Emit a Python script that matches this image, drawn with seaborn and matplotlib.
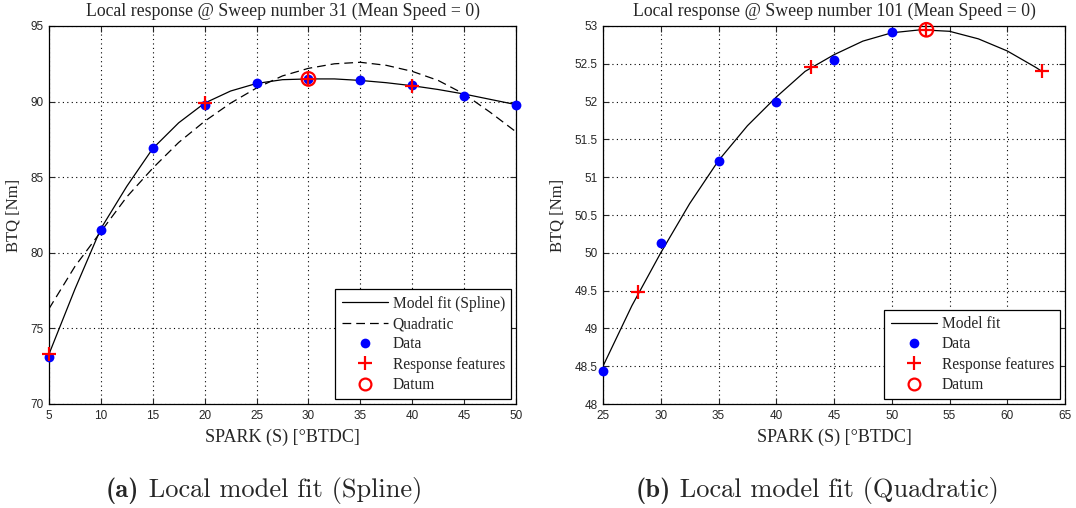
import matplotlib
matplotlib.use("Agg")
import matplotlib.pyplot as plt
import seaborn as sns
from matplotlib.lines import Line2D

# ---------------- data: left panel (Sweep 31, spline) ----------------
a_data_x = [5, 10, 15, 20, 25, 30, 35, 40, 45, 50]
a_data_y = [73.1, 81.5, 86.9, 89.8, 91.2, 91.5, 91.4, 91.1, 90.4, 89.8]
a_feat_x = [5, 20, 30, 40]
a_feat_y = [73.3, 89.9, 91.5, 91.0]
a_datum_x = [30]
a_datum_y = [91.5]
a_fit_x = [5, 7.5, 10, 12.5, 15, 17.5, 20, 22.5, 25, 27.5, 30, 32.5, 35, 37.5, 40, 42.5, 45, 47.5, 50]
a_fit_y = [73.3, 77.6, 81.6, 84.4, 86.9, 88.6, 89.9, 90.7, 91.2, 91.45, 91.5, 91.5, 91.4, 91.25, 91.05, 90.8, 90.5, 90.15, 89.8]
a_quad_x = [5, 7.5, 10, 12.5, 15, 17.5, 20, 22.5, 25, 27.5, 30, 32.5, 35, 37.5, 40, 42.5, 45, 47.5, 50]
a_quad_y = [76.3, 79.1, 81.4, 83.7, 85.6, 87.3, 88.7, 89.9, 90.9, 91.7, 92.2, 92.5, 92.6, 92.4, 92.0, 91.4, 90.5, 89.3, 88.0]

# ---------------- data: right panel (Sweep 101, quadratic) ----------------
b_data_x = [25, 30, 35, 40, 45, 50]
b_data_y = [48.43, 50.13, 51.22, 52.0, 52.55, 52.92]
b_feat_x = [28, 43, 53, 63]
b_feat_y = [49.48, 52.46, 52.95, 52.40]
b_datum_x = [53]
b_datum_y = [52.95]
b_fit_x = [25, 27.5, 30, 32.5, 35, 37.5, 40, 42.5, 45, 47.5, 50, 52.5, 55, 57.5, 60, 62.5, 63]
b_fit_y = [48.5, 49.3, 50.0, 50.65, 51.22, 51.68, 52.06, 52.4, 52.62, 52.8, 52.91, 52.95, 52.93, 52.83, 52.67, 52.45, 52.40]

a_yticks = [70, 75, 80, 85, 90, 95]
a_xticks = [5, 10, 15, 20, 25, 30, 35, 40, 45, 50]
b_yticks = [48, 48.5, 49, 49.5, 50, 50.5, 51, 51.5, 52, 52.5, 53]
b_ytick_labels = ["48", "48.5", "49", "49.5", "50", "50.5", "51", "51.5", "52", "52.5", "53"]
b_xticks = [25, 30, 35, 40, 45, 50, 55, 60, 65]

a_title = "Local response @ Sweep number 31 (Mean Speed = 0)"
b_title = "Local response @ Sweep number 101 (Mean Speed = 0)"
xlabel = "SPARK (S) [°BTDC]"
ylabel = "BTQ [Nm]"
a_legend = ["Model fit (Spline)", "Quadratic", "Data", "Response features", "Datum"]
b_legend = ["Model fit", "Data", "Response features", "Datum"]
a_caption = ("(a)", "Local model fit (Spline)")
b_caption = ("(b)", "Local model fit (Quadratic)")

sns.set_style("white")
plt.rcParams["font.family"] = ["Liberation Serif", "DejaVu Serif"]

fig = plt.figure(figsize=(10.76, 5.08), dpi=100)
axA = fig.add_axes([49/1076, 1-404/508, (516-49)/1076, (404-26)/508])
axB = fig.add_axes([603/1076, 1-404/508, (1065-603)/1076, (404-26)/508])

BLUE = "#0000ff"
RED = "#ff0000"


def draw(ax, fit_x, fit_y, data_x, data_y, feat_x, feat_y, dat_x, dat_y, quad=None):
    sns.lineplot(x=fit_x, y=fit_y, ax=ax, color="black", linewidth=0.9, sort=False, estimator=None)
    if quad is not None:
        sns.lineplot(x=quad[0], y=quad[1], ax=ax, color="black", linewidth=0.9,
                     sort=False, estimator=None)
        ax.lines[-1].set_dashes([7, 4])
    n0 = len(ax.collections)
    sns.scatterplot(x=data_x, y=data_y, ax=ax, color=BLUE, s=50, marker="o", linewidth=0, zorder=3)
    sns.scatterplot(x=feat_x, y=feat_y, ax=ax, color=RED, s=100, marker="+", linewidth=1.6, zorder=4)
    sns.scatterplot(x=dat_x, y=dat_y, ax=ax, s=95, marker="o", facecolors="none",
                    edgecolor=RED, linewidth=1.6, zorder=5)
    for c in ax.collections[n0:]:
        c.set_clip_on(False)


draw(axA, a_fit_x, a_fit_y, a_data_x, a_data_y, a_feat_x, a_feat_y, a_datum_x, a_datum_y,
     quad=(a_quad_x, a_quad_y))
draw(axB, b_fit_x, b_fit_y, b_data_x, b_data_y, b_feat_x, b_feat_y, b_datum_x, b_datum_y)

axA.set_xlim(5, 50)
axA.set_ylim(70, 95)
axA.set_xticks(a_xticks)
axA.set_yticks(a_yticks)
axB.set_xlim(25, 65)
axB.set_ylim(48, 53)
axB.set_xticks(b_xticks)
axB.set_yticks(b_yticks)
axB.set_yticklabels(b_ytick_labels)

for ax, title in ((axA, a_title), (axB, b_title)):
    ax.set_title(title, fontsize=12.8, pad=7.5)
    ax.set_xlabel(xlabel, fontsize=13, labelpad=5)
    ax.set_ylabel(ylabel, fontsize=12, labelpad=6)
    ax.grid(True, color="black", linestyle=(0, (1, 3)), linewidth=0.8)
    ax.tick_params(direction="in", length=4, width=0.8, top=True, right=True,
                   bottom=True, left=True, labelsize=8.5, pad=4)
    for lab in ax.get_xticklabels() + ax.get_yticklabels():
        lab.set_fontfamily("Liberation Sans")
    for sp in ax.spines.values():
        sp.set_color("black")
        sp.set_linewidth(0.9)

h_fit = Line2D([], [], color="black", linewidth=0.9)
h_quad = Line2D([], [], color="black", linewidth=0.9, dashes=[7, 4])
h_data = Line2D([], [], color=BLUE, marker="o", linestyle="", markersize=7, markeredgewidth=0)
h_feat = Line2D([], [], color=RED, marker="+", linestyle="", markersize=10, markeredgewidth=1.6)
h_dat = Line2D([], [], color=RED, marker="o", linestyle="", markersize=8.5, markerfacecolor="none", markeredgewidth=1.6)

leg_kw = dict(loc="lower right", fontsize=11.2, frameon=True, fancybox=False,
              edgecolor="black", framealpha=1, handlelength=3.0,
              labelspacing=0.28, borderpad=0.4, handletextpad=0.3)
legA = axA.legend([h_fit, h_quad, h_data, h_feat, h_dat], a_legend,
                  borderaxespad=0.3, **leg_kw)
legB = axB.legend([h_fit, h_data, h_feat, h_dat], b_legend,
                  borderaxespad=0.3, **leg_kw)
for lg in (legA, legB):
    lg.get_frame().set_linewidth(0.9)

# captions: bold label + regular text, centred as a group
renderer = fig.canvas.get_renderer()
for cx, (lab, txt) in ((264, a_caption), (817, b_caption)):
    y = 1 - 491/508
    t1 = fig.text(0, y, lab, ha="left", va="center", fontsize=19, fontfamily="cmb10")
    t2 = fig.text(0, y, " " + txt, ha="left", va="center", fontsize=19, fontfamily="cmr10")
    w1 = t1.get_window_extent(renderer).width
    w2 = t2.get_window_extent(renderer).width
    x0 = cx - (w1 + w2) / 2
    t1.set_x(x0 / 1076)
    t2.set_x((x0 + w1) / 1076)

fig.savefig("out.png", dpi=100)
